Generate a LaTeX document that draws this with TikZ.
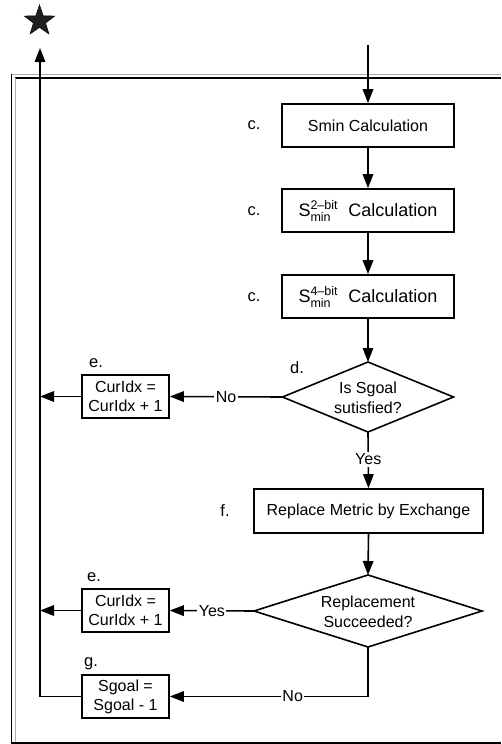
\documentclass[tikz,border=0pt]{standalone}
\usepackage{fontspec}
\setmainfont{Liberation Sans}
\usetikzlibrary{shapes.geometric,arrows.meta}
\newcommand\SupSub[2]{S\rlap{\raisebox{-4.5pt}{\fontsize{12.5}{12.5}\selectfont #2}}\raisebox{7.5pt}{\fontsize{12.5}{12.5}\selectfont #1}}
\begin{document}
\begin{tikzpicture}[x=1pt,y=-1pt,
  box/.style={draw, line width=1.6pt, inner sep=0pt, align=center, font=\fontsize{16}{19}\selectfont},
  bigbox/.style={box, font=\fontsize{18}{21}\selectfont},
  diatext/.style={inner sep=0pt, align=center, font=\fontsize{16}{20}\selectfont},
  lbl/.style={inner sep=0pt, font=\fontsize{16.5}{19}\selectfont},
  flow/.style={line width=1.6pt, -{Triangle[length=14pt,width=10.5pt]}},
  plain/.style={line width=1.6pt, line join=miter},
  edgelbl/.style={fill=white, inner sep=1.5pt, font=\fontsize{16}{19}\selectfont}]
\useasboundingbox (0,0) rectangle (501,744);
% frame
\draw[gray!65, line width=1.2pt] (11,74.5) -- (501,74.5);
\draw[line width=1.2pt] (15,78) -- (501,78);
\draw[line width=1.2pt] (11.5,74) -- (11.5,744);
\draw[gray!65, line width=1.6pt] (15.5,78) -- (15.5,744);
\draw[line width=1.2pt] (11,743) -- (501,743);
% star
\node[star, star points=5, star point ratio=2.5, fill=black!88, draw=black, line width=0.5pt, minimum size=32pt, inner sep=0pt] (star) at (39.5,21) {};
% boxes
\node[box, minimum width=172pt, minimum height=43pt] (b1) at (368,125.5) {Smin Calculation};
\node[bigbox, minimum width=172pt, minimum height=43pt] (b2) at (368,210.5) {\SupSub{2–bit}{min}\hspace{0.6em}Calculation};
\node[bigbox, minimum width=172pt, minimum height=43pt] (b3) at (368,296.5) {\SupSub{4–bit}{min}\hspace{0.6em}Calculation};
\node[box, minimum width=229pt, minimum height=44pt] (f) at (368.5,511) {Replace Metric by Exchange};
\node[box, minimum width=87pt, minimum height=43pt] (e1) at (125.5,396.5) {CurIdx =\\CurIdx + 1};
\node[box, minimum width=87pt, minimum height=43pt] (e2) at (125.5,610.5) {CurIdx =\\CurIdx + 1};
\node[box, minimum width=87pt, minimum height=43pt] (g) at (125.5,696.5) {Sgoal =\\Sgoal - 1};
% decision 1
\coordinate (d1n) at (368,362);
\coordinate (d1e) at (453.5,397);
\coordinate (d1s) at (368,432);
\coordinate (d1w) at (282.5,397);
\draw[plain] (d1n) -- (d1e) -- (d1s) -- (d1w) -- cycle;
\node[diatext] (d1) at (368,397.5) {Is Sgoal\\sutisfied?};
% decision 2
\coordinate (d2n) at (368,575);
\coordinate (d2e) at (482,611);
\coordinate (d2s) at (368,647);
\coordinate (d2w) at (254,611);
\draw[plain] (d2n) -- (d2e) -- (d2s) -- (d2w) -- cycle;
\node[diatext] (d2) at (368,611.5) {Replacement\\Succeeded?};
% step labels
\node[lbl] (lc1) at (254,125) {c.};
\node[lbl] (lc2) at (254,211) {c.};
\node[lbl] (lc3) at (254,297) {c.};
\node[lbl] (ld) at (297,368) {d.};
\node[lbl] (le1) at (96,363) {e.};
\node[lbl] (lf) at (225,511) {f.};
\node[lbl] (le2) at (94,577) {e.};
\node[lbl] (lg) at (91,664) {g.};
% coordinates
\coordinate (in) at (368,45);
\coordinate (up) at (40,48);
\coordinate (j1) at (40,396.5);
\coordinate (j2) at (40,610.5);
\coordinate (gl) at (40,696.5);
\coordinate (nc) at (368,696.5);
% connectors
\draw[flow] (in) -- (b1.north);
\draw[flow] (b1.south) -- (b2.north);
\draw[flow] (b2.south) -- (b3.north);
\draw[flow] (b3.south) -- (d1n);
\draw[flow] (d1w) -- node[edgelbl, pos=0.5] {No} (e1.east);
\draw[flow] (e1.west) -- (j1);
\draw[flow] (d1s) -- node[edgelbl, pos=0.49] {Yes} (f.north);
\draw[flow] (f.south) -- (d2n);
\draw[flow] (d2w) -- node[edgelbl, pos=0.5] {Yes} (e2.east);
\draw[flow] (e2.west) -- (j2);
\draw[flow] (d2s) -- (nc) -- node[edgelbl, pos=0.38] {No} (g.east);
\draw[flow] (g.west) -- (gl) -- (up);
\end{tikzpicture}
\end{document}
